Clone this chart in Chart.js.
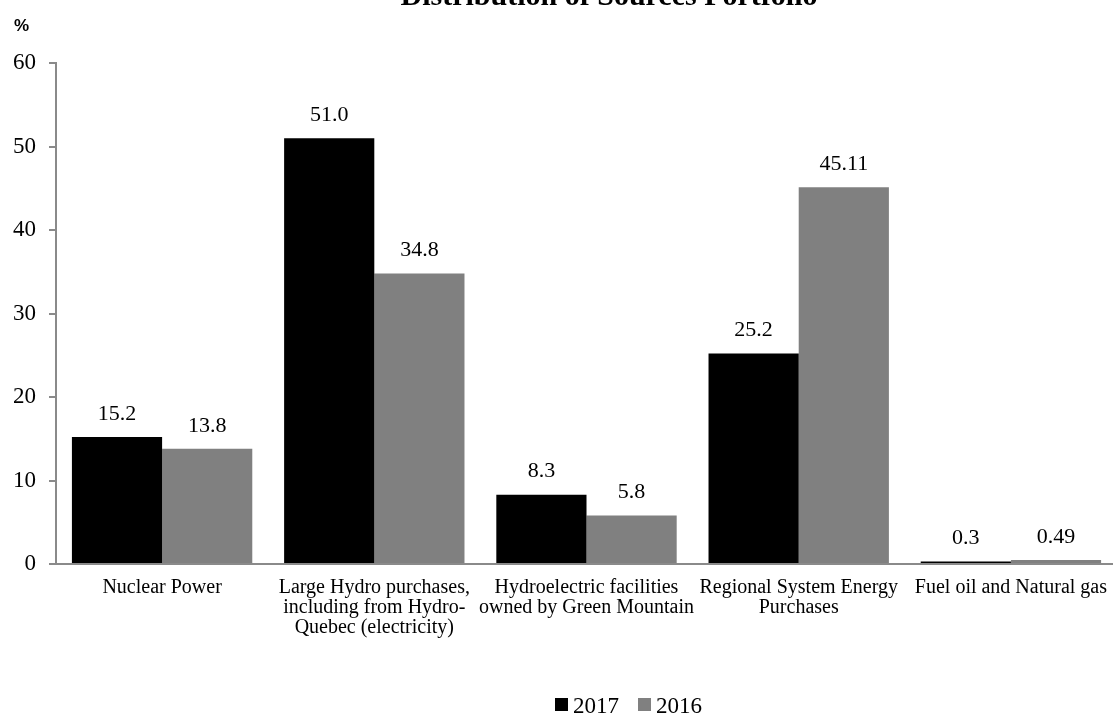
<!DOCTYPE html>
<html>
<head>
<meta charset="utf-8">
<script src="https://cdn.jsdelivr.net/npm/chart.js@4.4.1/dist/chart.umd.min.js"></script>
<style>
  html, body { margin: 0; padding: 0; background: #fff; overflow: hidden; }
  #wrap { width: 1113px; height: 715px; position: relative; overflow: hidden; }
  #c { display: block; }
</style>
</head>
<body>
<div id="wrap"><canvas id="c" width="1121" height="715"></canvas></div>
<script>
// Energy source categories (multi-line labels)
const categories = [
  ['Nuclear Power'],
  ['Large Hydro purchases,', 'including from Hydro-', 'Quebec (electricity)'],
  ['Hydroelectric facilities', 'owned by Green Mountain'],
  ['Regional System Energy', 'Purchases'],
  ['Fuel oil and Natural gas']
];
const series2017 = [15.2, 51.0, 8.3, 25.2, 0.3];
const series2016 = [13.8, 34.8, 5.8, 45.11, 0.49];
const yTicks = [0, 10, 20, 30, 40, 50, 60];
const chartTitle = 'Distribution of Sources Portfolio';
const unitLabel = '%';

const serif = "'Liberation Serif', 'Times New Roman', serif";

// Value labels above each bar
const valueLabels = {
  id: 'valueLabels',
  afterDatasetsDraw(chart) {
    const ctx = chart.ctx;
    ctx.save();
    ctx.font = '22px ' + serif;
    ctx.fillStyle = '#000';
    ctx.textAlign = 'center';
    ctx.textBaseline = 'middle';
    chart.data.datasets.forEach((ds, i) => {
      const meta = chart.getDatasetMeta(i);
      meta.data.forEach((bar, j) => {
        ctx.fillText(ds.fmt(ds.data[j]), bar.x, bar.y - 23);
      });
    });
    ctx.restore();
  }
};

// Title, unit text and the legend row
const headerText = {
  id: 'headerText',
  afterDraw(chart) {
    const ctx = chart.ctx;
    ctx.save();
    ctx.fillStyle = '#000';
    ctx.textAlign = 'center';
    ctx.textBaseline = 'alphabetic';
    ctx.font = 'bold 30px ' + serif;
    ctx.fillText(chartTitle, 609, 5);

    ctx.textAlign = 'left';
    ctx.font = "bold 17px 'Liberation Sans', Arial, sans-serif";
    ctx.fillText(unitLabel, 14, 31);

    // legend entries taken from the datasets
    ctx.font = '23px ' + serif;
    let x = 555;
    chart.data.datasets.forEach(ds => {
      ctx.fillStyle = ds.backgroundColor;
      ctx.fillRect(x, 698, 13, 13);
      ctx.fillStyle = '#000';
      ctx.fillText(ds.label, x + 18, 713);
      x += 18 + ctx.measureText(ds.label).width + 19;
    });
    ctx.restore();
  }
};

new Chart(document.getElementById('c'), {
  type: 'bar',
  data: {
    labels: categories,
    datasets: [
      {
        label: '2017',
        data: series2017,
        backgroundColor: '#000000',
        borderWidth: 0,
        fmt: v => v.toFixed(1)
      },
      {
        label: '2016',
        data: series2016,
        backgroundColor: '#808080',
        borderWidth: 0,
        fmt: v => String(v)
      }
    ]
  },
  options: {
    responsive: false,
    animation: false,
    devicePixelRatio: 1,
    layout: { padding: { top: 63, left: 0, right: 0, bottom: 0 } },
    datasets: { bar: { categoryPercentage: 0.85, barPercentage: 1.0 } },
    plugins: {
      title: { display: false },
      tooltip: { enabled: false },
      legend: { display: false }
    },
    scales: {
      x: {
        grid: { display: false, drawTicks: false },
        border: { display: true, color: '#8a8a8a', width: 2 },
        ticks: {
          color: '#000',
          font: { family: serif, size: 20, lineHeight: 1.0 },
          padding: 14,
          maxRotation: 0,
          autoSkip: false
        },
        afterFit(scale) { scale.height = 151; }
      },
      y: {
        min: 0,
        max: 60,
        afterBuildTicks(scale) { scale.ticks = yTicks.map(v => ({ value: v })); },
        grid: { drawOnChartArea: false, drawTicks: true, tickLength: 7, color: '#8a8a8a', lineWidth: 2 },
        border: { display: true, color: '#8a8a8a', width: 2 },
        ticks: {
          color: '#000',
          font: { family: serif, size: 23 },
          padding: 13
        },
        afterFit(scale) { scale.width = 56; }
      }
    }
  },
  plugins: [valueLabels, headerText]
});
</script>
</body>
</html>
